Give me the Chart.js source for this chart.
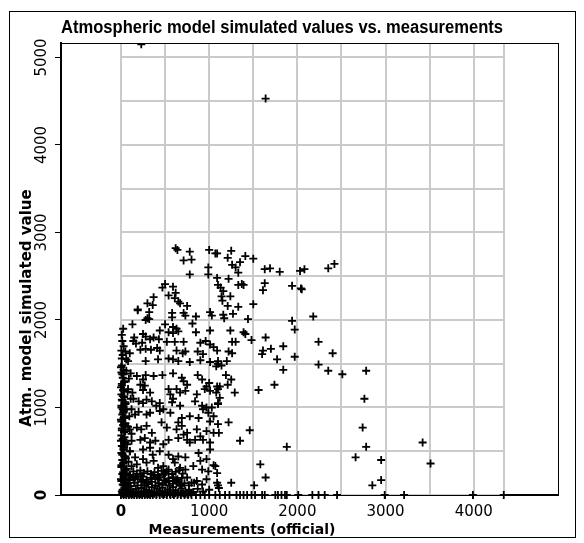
<!DOCTYPE html>
<html>
<head>
<meta charset="utf-8">
<title>Atmospheric model simulated values vs. measurements</title>
<script src="https://cdn.jsdelivr.net/npm/chart.js@4.4.0/dist/chart.umd.min.js"></script>
<style>
  html, body { margin: 0; padding: 0; background: #fff; }
  canvas { display: block; }
</style>
</head>
<body>
<canvas id="scatter" width="584" height="543"></canvas>
<script>
const measured = [
    // upper part
    230, 1640,
    620, 640, 780, 710, 800, 780, 1000, 1070, 990, 990,
    500, 470, 590, 540, 620, 610, 650, 670, 750, 370,
    300, 360, 190, 190, 320, 300, 280, 320, 580, 580,
    710, 730, 850, 810, 1010, 1030, 130, 500, 590, 630,
    440, 540, 590, 650, 850, 1010, 250, 280, 150, 370,
    430, 140, 170, 240, 330, 520, 610, 710, 900, 960,
    1010, 1050, 220, 280, 340, 410, 440, 50, 100, 630,
    700, 730, 870, 930, 60, 80, 280, 420, 540, 590,
    650, 780, 900, 1010, 1100,
    // dense block below 1500
    30, 110, 180, 250, 280, 370, 470, 590, 690, 710, 750, 870, 920, 1000, 1080, 1090, 970,
    10, 30, 80, 130, 220, 270, 250, 330, 540, 560, 630, 670, 730, 860, 950, 1010, 1080, 1120,
    10, 50, 140, 200, 250, 290, 350, 400, 440, 580, 590, 670, 840, 920, 970, 1030, 1100,
    20, 30, 120, 160, 200, 290, 330, 440, 480, 560, 650, 690, 780, 880, 930, 990, 1010, 1050,
    30, 50, 100, 180, 230, 290, 350, 460, 520, 630, 690, 710, 750, 860, 900, 970, 1050, 1100,
    30, 40, 120, 220, 270, 330, 390, 480, 540, 650, 750, 780, 840, 930, 1010,
    30, 50, 100, 160, 250, 330, 360, 440, 540, 590, 650, 730, 880, 900, 970, 1010,
    30, 50, 120, 180, 250, 290, 370, 420, 480, 520, 610, 670, 730, 820, 920, 990, 1050,
    30, 50, 100, 160, 220, 250, 310, 370, 420, 480, 540, 590, 630, 670, 750, 800, 860, 920, 970, 1090,
    // column close to zero
    10, 30, 5, 20, 40, 10, 25, 5, 35, 15,
    50, 5, 30, 15, 45, 5, 25, 10, 35, 5,
    20, 50, 10, 30, 5, 40, 15, 25, 5, 45,
    15, 30, 5, 20, 40, 10, 60, 70, 10, 20,
    5, 30, 15, 10, 25,
    0, 60, 15, 90, 35, 0, 75, 20, 110, 45, 5, 65, 25, 95, 0, 50, 80, 10,
    120, 40, 0, 70, 30, 100, 15, 55, 85, 5, 65, 25, 105, 0, 45, 90, 20, 75,
    // on and just above the x axis
    0, 30, 60, 90, 120, 150, 180, 210, 240, 270, 300, 330, 360, 400, 440, 480, 520, 560, 600, 640, 680, 720, 760, 800, 850, 900, 950, 1000,
    20, 50, 80, 110, 140, 170, 200, 230, 260, 290, 320, 350, 380, 410, 440, 470, 500, 530, 560, 590, 620, 650, 690, 730, 770, 820, 870, 930, 1000,
    30, 70, 110, 150, 190, 230, 270, 310, 350, 390, 430, 470, 510, 550, 590, 630, 680, 720, 770, 830,
    60, 100, 140, 180, 220, 260, 300, 340, 380, 420, 460, 500, 540, 580, 620, 660, 700,
    15, 45, 75, 105, 135, 165, 195, 225, 255, 285, 315, 345, 375, 405, 435, 465, 495, 525, 555, 585, 615, 645, 675, 705, 735, 765, 795,
    40, 90, 140, 190, 240, 290, 340, 390, 440, 490, 540, 590, 640, 690,
    // middle band 1000 - 2300
    1090, 1250, 1210, 1260, 1300, 1350, 1410, 1500, 1330, 1630, 1690, 1800, 2030, 2080,
    1090, 1220, 1100, 1130, 1160, 1140, 1330, 1390, 1370, 1630, 1610, 1940, 2040,
    1240, 1150, 1210, 1330, 1500, 1160, 1270, 1170, 1440, 1940, 1970, 2180,
    1240, 1390, 1410, 1260, 1300, 1480, 1640, 2240, 1840, 1090, 1220, 1260, 1610, 1700, 1600, 1770, 1970, 1200,
    1100, 1140, 1840, 1190, 1250, 1210, 1740, 1100, 1290, 1560, 1120, 1100,
    1220, 1110, 1460, 1350, 1880, 1070, 1090, 1580, 1640, 1100, 1110, 1250, 1510,
    1070, 1120, 1180, 1230, 1310, 1350, 1390, 1430, 1480, 1520, 1600, 1630, 1750, 1780, 1820, 1860, 1880, 2010, 2170, 2240,
    // right side
    2350, 2420, 2050, 2400, 2240, 2350, 2510, 2780, 2760, 2740, 2780, 2660, 2950, 3420, 3510, 2850, 2950,
    2310, 2450, 2990, 3210, 3990, 4340
];
const simulated = [
    // upper part
    5150, 4530,
    2820, 2800, 2780, 2680, 2690, 2520, 2800, 2760, 2600, 2520,
    2410, 2370, 2380, 2280, 2310, 2250, 2210, 2190, 2160, 2260,
    2190, 2170, 2120, 2110, 2090, 2020, 2000, 2010, 2080, 2030,
    2080, 2050, 2040, 1960, 2090, 2050, 1950, 1950, 1920, 1900,
    1880, 1860, 1850, 1870, 1860, 1880, 1840, 1810, 1800, 1800,
    1780, 1760, 1730, 1740, 1780, 1750, 1750, 1750, 1740, 1760,
    1720, 1690, 1660, 1670, 1660, 1680, 1650, 1640, 1620, 1650,
    1620, 1640, 1640, 1610, 1550, 1530, 1530, 1550, 1560, 1550,
    1530, 1520, 1540, 1520, 1530,
    // dense block below 1500
    1380, 1390, 1360, 1320, 1370, 1360, 1370, 1390, 1340, 1300, 1260, 1370, 1320, 1280, 1470, 1240, 1240,
    1270, 1190, 1210, 1170, 1260, 1250, 1200, 1170, 1210, 1150, 1210, 1170, 1190, 1150, 1210, 1190, 1170, 1240,
    1090, 1050, 1100, 1070, 1050, 1090, 1070, 1020, 1050, 1060, 1100, 1020, 1070, 1020, 1000, 1000, 1040,
    980, 880, 980, 920, 950, 920, 940, 960, 980, 940, 830, 880, 900, 880, 980, 940, 840, 900,
    790, 730, 750, 770, 750, 790, 710, 830, 770, 750, 790, 690, 710, 750, 670, 730, 710, 810,
    630, 580, 620, 630, 650, 600, 620, 580, 630, 650, 630, 600, 630, 630, 600,
    520, 440, 500, 430, 520, 540, 460, 500, 460, 410, 440, 430, 480, 390, 410, 520,
    370, 290, 330, 350, 410, 370, 390, 310, 330, 270, 370, 310, 290, 330, 290, 270, 340,
    220, 140, 180, 200, 230, 160, 140, 220, 180, 230, 160, 200, 140, 120, 200, 140, 160, 120, 180, 140,
    // column close to zero
    1480, 1430, 1400, 1340, 1300, 1250, 1200, 1150, 1120, 1080,
    1040, 1000, 960, 920, 880, 840, 800, 760, 720, 680,
    640, 600, 560, 520, 480, 440, 400, 360, 320, 280,
    240, 200, 160, 120, 80, 40, 60, 20, 1560, 1600,
    1650, 1700, 1760, 1830, 1900,
    1460, 1420, 1380, 1330, 1290, 1230, 1180, 1130, 1100, 1060, 1020, 980, 940, 900, 860, 820, 780, 740,
    700, 660, 620, 580, 540, 500, 460, 420, 380, 340, 300, 260, 220, 180, 140, 100, 60, 30,
    // on and just above the x axis
    0, 0, 0, 0, 0, 0, 0, 0, 0, 0, 0, 0, 0, 0, 0, 0, 0, 0, 0, 0, 0, 0, 0, 0, 0, 0, 0, 0,
    30, 50, 25, 60, 35, 70, 40, 80, 30, 60, 45, 90, 30, 70, 50, 85, 35, 65, 40, 90, 55, 30, 75, 45, 60, 35, 70, 40, 60,
    110, 130, 100, 140, 110, 150, 105, 125, 150, 110, 135, 115, 145, 110, 130, 160, 105, 135, 110, 140,
    250, 230, 270, 245, 280, 250, 270, 240, 260, 230, 275, 250, 290, 240, 265, 285, 245,
    15, 10, 20, 15, 10, 20, 15, 10, 20, 15, 10, 20, 15, 10, 20, 15, 10, 20, 15, 10, 20, 15, 10, 20, 15, 10, 20,
    190, 170, 200, 180, 210, 175, 195, 185, 205, 170, 190, 200, 180, 195,
    // middle band 1000 - 2300
    2760, 2790, 2710, 2630, 2600, 2660, 2730, 2700, 2540, 2580, 2590, 2550, 2560, 2580,
    2480, 2470, 2400, 2370, 2330, 2270, 2400, 2400, 2410, 2420, 2340, 2390, 2360,
    2270, 2220, 2160, 2150, 2180, 2060, 2070, 2020, 2010, 1990, 1890, 2040,
    1880, 1860, 1840, 1750, 1750, 1770, 1800, 1750, 1700, 1650, 1640, 1620, 1650, 1670, 1610, 1550, 1580, 1530,
    1500, 1480, 1430, 1370, 1320, 1260, 1260, 1210, 1170, 1200, 1110, 1050,
    830, 710, 740, 620, 550, 330, 250, 350, 200, 110, 80, 140, 110,
    0, 0, 0, 0, 0, 0, 0, 0, 0, 0, 0, 0, 0, 0, 0, 0, 0, 0, 0, 0,
    // right side
    2590, 2640, 2350, 1620, 1490, 1420, 1380, 1420, 1100, 770, 550, 430, 400, 600, 360, 110, 170,
    0, 0, 0, 0, 0, 0
];

const xTickValues = [0, 1000, 2000, 3000, 4000];
const yTickValues = [0, 1000, 2000, 3000, 4000, 5000];
const gridStep = 500;

const chartTitle = 'Atmospheric model simulated values vs. measurements';
const xAxisTitle = 'Measurements (official)';
const yAxisTitle = 'Atm. model simulated value';

const sansFont = "'Liberation Sans', Arial, sans-serif";
const wideFont = "'DejaVu Sans', Verdana, sans-serif";

const points = measured.map((m, i) => ({ x: m, y: simulated[i] }));

const frameAndText = {
    id: 'frameAndText',
    beforeDatasetsDraw(chart) {
        const { ctx, chartArea, scales: { x, y } } = chart;
        const xEnd = Math.max(...measured);
        const left = x.getPixelForValue(0);
        const right = x.getPixelForValue(xEnd);
        const bottom = y.getPixelForValue(0);
        ctx.save();
        ctx.strokeStyle = '#cacaca';
        ctx.lineWidth = 2;
        ctx.beginPath();
        for (let v = 0; v <= y.max; v += gridStep) {
            const py = Math.round(y.getPixelForValue(v));
            ctx.moveTo(left, py);
            ctx.lineTo(right, py);
        }
        for (let v = 0; v <= xEnd; v += gridStep) {
            const px = Math.round(x.getPixelForValue(v));
            ctx.moveTo(px, chartArea.top);
            ctx.lineTo(px, bottom);
        }
        ctx.moveTo(Math.round(right), chartArea.top);
        ctx.lineTo(Math.round(right), bottom);
        ctx.stroke();
        ctx.restore();
    },
    afterDraw(chart) {
        const { ctx, chartArea, scales: { y } } = chart;
        ctx.save();
        // plot box and outer frame
        ctx.strokeStyle = '#000';
        ctx.lineWidth = 1;
        ctx.strokeRect(chartArea.left + 0.5, chartArea.top + 0.5,
            chartArea.right - chartArea.left, chartArea.bottom - chartArea.top);
        ctx.strokeRect(9.5, 11.5, 566, 526);

        ctx.fillStyle = '#000';
        // title, squeezed to the narrow width of the original
        ctx.save();
        ctx.font = 'bold 18px ' + sansFont;
        ctx.textAlign = 'left';
        ctx.textBaseline = 'alphabetic';
        const titleWidth = ctx.measureText(chartTitle).width;
        ctx.translate(61, 33);
        ctx.scale(442 / titleWidth, 1);
        ctx.fillText(chartTitle, 0, 0);
        ctx.restore();

        // x axis title
        ctx.font = 'bold 14px ' + wideFont;
        ctx.textAlign = 'center';
        ctx.textBaseline = 'alphabetic';
        ctx.fillText(xAxisTitle, 242, 534);

        // rotated y tick labels
        yTickValues.forEach(v => {
            ctx.save();
            ctx.translate(42, y.getPixelForValue(v));
            ctx.rotate(-Math.PI / 2);
            ctx.font = (v === 0 ? 'bold ' : '') + '15px ' + wideFont;
            ctx.textAlign = 'center';
            ctx.textBaseline = 'middle';
            ctx.fillText(String(v), 0, 0);
            ctx.restore();
        });

        // y axis title
        ctx.translate(27, 308);
        ctx.rotate(-Math.PI / 2);
        ctx.font = 'bold 15px ' + wideFont;
        ctx.textAlign = 'center';
        ctx.textBaseline = 'middle';
        ctx.fillText(yAxisTitle, 0, 0);
        ctx.restore();
    }
};

new Chart(document.getElementById('scatter'), {
    type: 'scatter',
    data: {
        datasets: [{
            label: 'Stations',
            data: points,
            pointStyle: 'cross',
            pointRadius: 4,
            pointBorderWidth: 1.8,
            borderColor: '#000',
            backgroundColor: '#000',
            clip: { left: false, right: false, top: 0, bottom: false }
        }]
    },
    options: {
        responsive: false,
        animation: false,
        devicePixelRatio: 1,
        layout: { padding: { top: 43, right: 26, left: 0, bottom: 0 } },
        plugins: {
            legend: { display: false },
            title: { display: false },
            tooltip: { enabled: false }
        },
        scales: {
            x: {
                type: 'linear',
                min: -680,
                max: 4955,
                afterBuildTicks: scale => { scale.ticks = xTickValues.map(v => ({ value: v })); },
                afterFit: scale => { scale.height = 48; },
                grid: { display: true, drawOnChartArea: false, drawTicks: true, tickLength: 4, color: '#000' },
                border: { color: '#000', width: 2 },
                ticks: {
                    color: '#000',
                    padding: 4,
                    maxRotation: 0,
                    minRotation: 0,
                    callback: v => String(v),
                    font: ctx => ({ family: wideFont, size: 15, weight: ctx.tick && ctx.tick.value === 0 ? 'bold' : 'normal' })
                }
            },
            y: {
                type: 'linear',
                min: 0,
                max: 5165,
                afterBuildTicks: scale => { scale.ticks = yTickValues.map(v => ({ value: v })); },
                afterFit: scale => { scale.width = 61; },
                grid: { display: true, drawOnChartArea: false, drawTicks: true, tickLength: 6, color: '#000' },
                border: { color: '#000', width: 2 },
                ticks: { color: 'rgba(0,0,0,0)', font: { family: wideFont, size: 15 } }
            }
        }
    },
    plugins: [frameAndText]
});
</script>
</body>
</html>
